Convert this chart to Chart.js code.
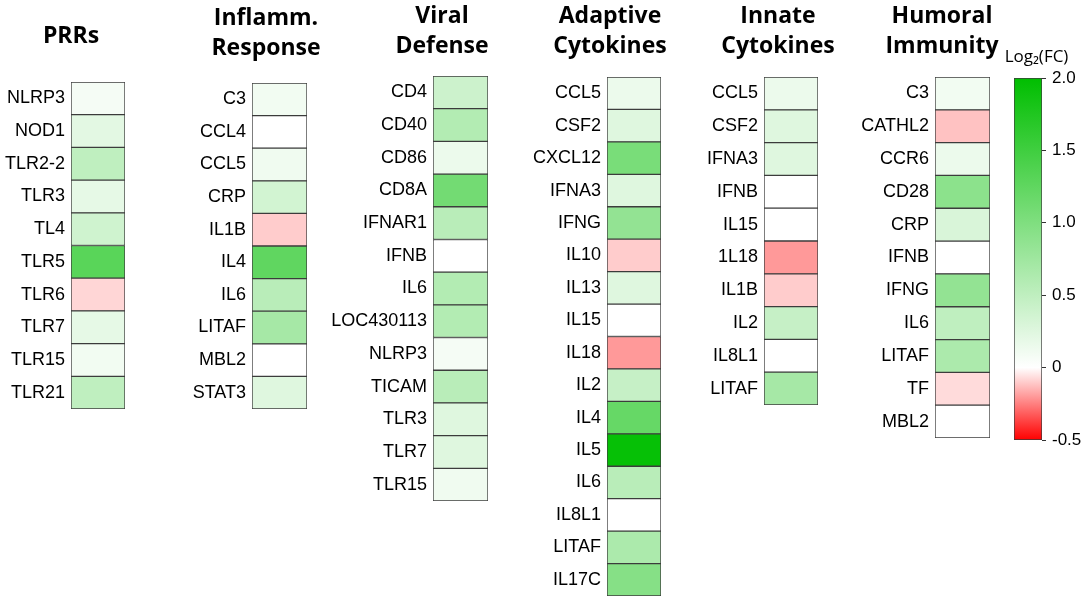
<!DOCTYPE html>
<html lang="en">
<head>
  <meta charset="UTF-8" />
  <title>Immune gene expression heatmap</title>
  <script src="https://cdn.jsdelivr.net/npm/chart.js"></script>
  <style>
    body {
      margin: 0;
      background: #ffffff;
      width: 1084px;
      height: 602px;
      position: relative;
      overflow: hidden;
    }
    canvas.panel {
      position: absolute;
      top: 0;
    }
  </style>
</head>
<body>
  <script>
    // --- data: gene names and log2 fold change per panel ---
    const prrGenes = ['NLRP3', 'NOD1', 'TLR2-2', 'TLR3', 'TL4', 'TLR5', 'TLR6', 'TLR7', 'TLR15', 'TLR21'];
    const prrValues = [0.08, 0.22, 0.5, 0.2, 0.38, 1.3, -0.08, 0.2, 0.1, 0.5];

    const inflammGenes = ['C3', 'CCL4', 'CCL5', 'CRP', 'IL1B', 'IL4', 'IL6', 'LITAF', 'MBL2', 'STAT3'];
    const inflammValues = [0.1, 0, 0.12, 0.35, -0.1, 1.25, 0.55, 0.7, 0, 0.25];

    const viralGenes = ['CD4', 'CD40', 'CD86', 'CD8A', 'IFNAR1', 'IFNB', 'IL6', 'LOC430113', 'NLRP3', 'TICAM', 'TLR3', 'TLR7', 'TLR15'];
    const viralValues = [0.4, 0.6, 0.15, 1.1, 0.55, 0, 0.6, 0.6, 0.08, 0.55, 0.25, 0.25, 0.12];

    const adaptiveGenes = ['CCL5', 'CSF2', 'CXCL12', 'IFNA3', 'IFNG', 'IL10', 'IL13', 'IL15', 'IL18', 'IL2', 'IL4', 'IL5', 'IL6', 'IL8L1', 'LITAF', 'IL17C'];
    const adaptiveValues = [0.15, 0.25, 1.05, 0.25, 0.85, -0.1, 0.25, 0, -0.2, 0.45, 1.2, 1.95, 0.55, 0, 0.65, 0.95];

    const innateGenes = ['CCL5', 'CSF2', 'IFNA3', 'IFNB', 'IL15', '1L18', 'IL1B', 'IL2', 'IL8L1', 'LITAF'];
    const innateValues = [0.15, 0.25, 0.25, 0, 0, -0.2, -0.1, 0.45, 0, 0.7];

    const humoralGenes = ['C3', 'CATHL2', 'CCR6', 'CD28', 'CRP', 'IFNB', 'IFNG', 'IL6', 'LITAF', 'TF', 'MBL2'];
    const humoralValues = [0.1, -0.12, 0.15, 0.9, 0.3, 0, 0.85, 0.5, 0.65, -0.07, 0];

    const panelTitles = [['PRRs'], ['Inflamm.', 'Response'], ['Viral', 'Defense'], ['Adaptive', 'Cytokines'], ['Innate', 'Cytokines'], ['Humoral', 'Immunity']];

    const scaleMin = -0.5;
    const scaleMax = 2.0;
    const scaleStep = 0.5;
    const colorbarTitle = 'Log\u2082(FC)';

    // --- layout (pixel positions of the boxes in the figure) ---
    const panels = [
      { title: panelTitles[0], genes: prrGenes, values: prrValues, boxLeft: 71, boxRight: 125, boxTop: 82, boxBottom: 409, titleX: 71, titleY: 36 },
      { title: panelTitles[1], genes: inflammGenes, values: inflammValues, boxLeft: 252, boxRight: 307, boxTop: 83, boxBottom: 409, titleX: 266, titleY: 18 },
      { title: panelTitles[2], genes: viralGenes, values: viralValues, boxLeft: 433, boxRight: 488, boxTop: 76, boxBottom: 501, titleX: 442, titleY: 16 },
      { title: panelTitles[3], genes: adaptiveGenes, values: adaptiveValues, boxLeft: 607, boxRight: 661, boxTop: 77, boxBottom: 596, titleX: 610, titleY: 16 },
      { title: panelTitles[4], genes: innateGenes, values: innateValues, boxLeft: 764, boxRight: 818, boxTop: 77, boxBottom: 405, titleX: 778, titleY: 16 },
      { title: panelTitles[5], genes: humoralGenes, values: humoralValues, boxLeft: 935, boxRight: 990, boxTop: 77, boxBottom: 438, titleX: 942, titleY: 16 }
    ];

    const TITLE_LH = 30;
    const GREEN = [0, 190, 0];
    const RED = [255, 0, 0];
    const LABEL_FONT = { family: "'Liberation Sans', Arial, sans-serif", size: 18 };

    function cellColor(v) {
      let c;
      if (v >= 0) {
        const t = Math.min(v / scaleMax, 1);
        c = [0, 1, 2].map(i => Math.round(255 * (1 - t) + GREEN[i] * t));
      } else {
        const t = Math.min(v / scaleMin, 1);
        c = [0, 1, 2].map(i => Math.round(255 * (1 - t) + RED[i] * t));
      }
      return `rgb(${c[0]}, ${c[1]}, ${c[2]})`;
    }

    function addCanvas(left, width, height) {
      const cv = document.createElement('canvas');
      cv.className = 'panel';
      cv.style.left = left + 'px';
      cv.style.width = width + 'px';
      cv.style.height = height + 'px';
      cv.width = width;
      cv.height = height;
      document.body.appendChild(cv);
      return cv;
    }

    // an empty axis that only reserves space, so the title can sit off-centre
    function spacerAxis(position, size) {
      return {
        type: 'linear',
        position: position,
        grid: { display: false, drawTicks: false },
        border: { display: false },
        ticks: { display: false },
        afterFit: s => {
          s.width = size;
          s.paddingTop = 0;
          s.paddingBottom = 0;
        }
      };
    }

    function makePanel(p) {
      const canvasLeft = Math.max(0, p.boxLeft - 110);
      const width = 2 * (p.titleX - canvasLeft);
      const height = p.boxBottom + 3;
      const labelW = p.boxLeft - canvasLeft;
      const spacer = width - (p.boxRight - canvasLeft);
      const padTop = p.titleY - TITLE_LH / 2;
      const padBottom = p.boxTop - padTop - p.title.length * TITLE_LH;

      const cv = addCanvas(canvasLeft, width, height);
      new Chart(cv.getContext('2d'), {
        type: 'bar',
        data: {
          labels: p.genes,
          datasets: [{
            data: p.values.map(() => [0, 1]),
            backgroundColor: p.values.map(cellColor),
            borderColor: '#3c3c3c',
            borderWidth: 1,
            borderSkipped: false,
            categoryPercentage: 1,
            barPercentage: 1
          }]
        },
        options: {
          indexAxis: 'y',
          responsive: false,
          animation: false,
          layout: { padding: { top: 0, left: 0, bottom: 3, right: 0 } },
          plugins: {
            legend: { display: false },
            tooltip: { enabled: false },
            title: {
              display: true,
              text: p.title,
              color: '#000000',
              font: { family: "'Open Sans', sans-serif", size: 23, weight: 'bold', lineHeight: TITLE_LH + 'px' },
              padding: { top: padTop, bottom: padBottom }
            }
          },
          scales: {
            x: { display: false, min: 0, max: 1 },
            y: {
              grid: { display: false, drawTicks: false },
              border: { display: false },
              ticks: {
                autoSkip: false,
                color: '#000000',
                padding: 6,
                font: LABEL_FONT
              },
              afterFit: s => {
                s.width = labelW;
                s.paddingTop = 0;
                s.paddingBottom = 0;
              }
            },
            spacer: spacerAxis('right', spacer)
          }
        }
      });
    }

    panels.forEach(makePanel);

    // --- colour bar ---
    function makeColorbar() {
      const left = 990, barLeft = 1014, barRight = 1042, top = 78, bottom = 440;
      const axisW = 41;
      const width = (barRight - left) + axisW;
      const height = bottom + 15;
      const cv = addCanvas(left, width, height);
      new Chart(cv.getContext('2d'), {
        type: 'bar',
        data: {
          labels: [colorbarTitle],
          datasets: [{
            data: [[scaleMin, scaleMax]],
            backgroundColor: ctx => {
              const chart = ctx.chart;
              if (!chart.chartArea) return '#ffffff';
              const y = chart.scales.y;
              const g = chart.ctx.createLinearGradient(0, y.getPixelForValue(scaleMin), 0, y.getPixelForValue(scaleMax));
              const zero = (0 - scaleMin) / (scaleMax - scaleMin);
              g.addColorStop(0, cellColor(scaleMin));
              g.addColorStop(zero, '#ffffff');
              g.addColorStop(1, cellColor(scaleMax));
              return g;
            },
            borderColor: '#3c3c3c',
            borderWidth: 1,
            borderSkipped: false,
            categoryPercentage: 1,
            barPercentage: 1
          }]
        },
        options: {
          responsive: false,
          animation: false,
          layout: { padding: { top: 0, left: 0, bottom: height - bottom, right: 0 } },
          plugins: {
            legend: { display: false },
            tooltip: { enabled: false },
            title: {
              display: true,
              text: colorbarTitle,
              color: '#000000',
              font: { family: "'Open Sans', sans-serif", size: 17, weight: 'normal', lineHeight: '20px' },
              padding: { top: 47, bottom: top - 47 - 20 }
            }
          },
          scales: {
            x: { display: false },
            y: {
              position: 'right',
              min: scaleMin,
              max: scaleMax,
              border: { display: false },
              grid: { drawOnChartArea: false, drawTicks: true, tickLength: 4, color: '#333333' },
              ticks: {
                stepSize: scaleStep,
                padding: 6,
                color: '#000000',
                font: { family: "'Liberation Sans', Arial, sans-serif", size: 17 },
                callback: v => (v === 0 ? '0' : v.toFixed(1))
              },
              afterFit: s => {
                s.width = axisW;
                s.paddingTop = 0;
                s.paddingBottom = 0;
              }
            },
            spacer: spacerAxis('left', barLeft - left)
          }
        }
      });
    }

    makeColorbar();
  </script>
</body>
</html>
